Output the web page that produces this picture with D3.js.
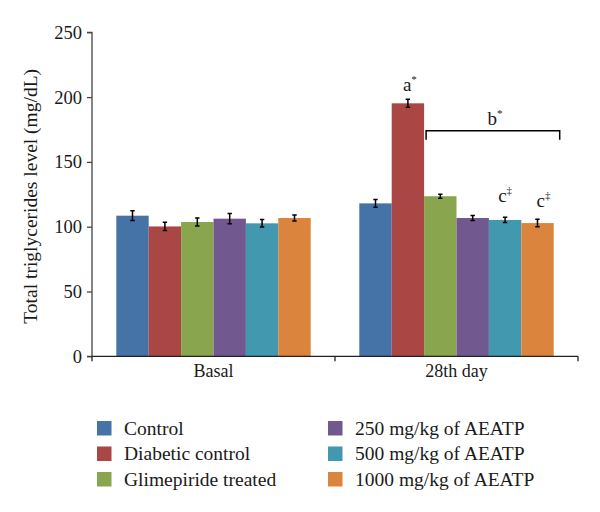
<!DOCTYPE html>
<html><head><meta charset="utf-8">
<script src="https://cdn.jsdelivr.net/npm/d3@7"></script>
<style>body{margin:0;background:#fff}svg text,svg tspan{font-family:"Liberation Serif","DejaVu Serif",serif;fill:#1a1a1a}</style>
</head><body><svg id="c" width="600" height="512"></svg>
<script>
const categories = ["Basal", "28th day"];
const seriesNames = ["Control", "Diabetic control", "Glimepiride treated", "250 mg/kg of AEATP", "500 mg/kg of AEATP", "1000 mg/kg of AEATP"];
const colors = ["#4572A7", "#AA4643", "#89A54E", "#71588F", "#4198AF", "#DB843D"];
const basalValues = [108.5, 100.2, 103.6, 106.2, 102.6, 106.7];
const basalErrors = [3.8, 3.2, 3.1, 4.0, 2.9, 2.3];
const day28Values = [118, 195.2, 123.5, 106.7, 105.2, 102.8];
const day28Errors = [2.9, 3.1, 1.5, 1.9, 2.0, 2.9];
const yTicks = [0, 50, 100, 150, 200, 250];
const yTitle = "Total triglycerides level (mg/dL)";

(function () {
const svg = d3.select("#c");
const mLeft = 92, mRight = 578, mTop = 32.3, mBottom = 356.3;
const x0 = d3.scaleBand().domain(categories).range([mLeft, mRight]).paddingInner(0.2).paddingOuter(0.1);
const x1 = d3.scaleBand().domain(d3.range(seriesNames.length)).range([0, x0.bandwidth()]);
const y = d3.scaleLinear().domain([0, 250]).range([mBottom, mTop]);

const data = [
  {cat: categories[0], vals: basalValues, errs: basalErrors},
  {cat: categories[1], vals: day28Values, errs: day28Errors}
];

const g = svg.append("g");
data.forEach(d => {
  const gg = g.append("g").attr("transform", `translate(${x0(d.cat)},0)`);
  gg.selectAll("rect").data(d.vals).join("rect")
    .attr("x", (v, i) => x1(i)).attr("width", x1.bandwidth())
    .attr("y", v => y(v)).attr("height", v => y(0) - y(v))
    .attr("fill", (v, i) => colors[i]);
  d.vals.forEach((v, i) => {
    const cx = x1(i) + x1.bandwidth() / 2;
    const e = d.errs[i];
    const p = d3.path();
    p.moveTo(cx, y(v + e)); p.lineTo(cx, y(v - e));
    p.moveTo(cx - 2.2, y(v + e)); p.lineTo(cx + 2.2, y(v + e));
    p.moveTo(cx - 2.2, y(v - e)); p.lineTo(cx + 2.2, y(v - e));
    gg.append("path").attr("d", p.toString()).attr("stroke", "#000").attr("stroke-width", 1.5).attr("fill", "none");
  });
});

const yAxis = d3.axisLeft(y).tickValues(yTicks).tickSize(5).tickPadding(5);
const ya = svg.append("g").attr("transform", `translate(${mLeft},0)`).call(yAxis);
ya.select(".domain").attr("stroke", "#444").attr("stroke-width", 1.3).attr("d", `M-5,${mTop}H0V${mBottom}H-5`);
ya.selectAll(".tick line").attr("stroke", "#444").attr("stroke-width", 1.3);
ya.selectAll(".tick text").attr("font-size", 18.5).attr("font-family", "Liberation Serif, serif").attr("fill", "#1a1a1a");

const xa = svg.append("g").attr("transform", `translate(0,${mBottom})`);
xa.append("line").attr("x1", mLeft).attr("x2", mRight).attr("y1", 0).attr("y2", 0).attr("stroke", "#222").attr("stroke-width", 1.3);
[mLeft, (x0(categories[0]) + x0.bandwidth() + x0(categories[1])) / 2, mRight].forEach(tx => {
  xa.append("line").attr("x1", tx).attr("x2", tx).attr("y1", 0).attr("y2", 5).attr("stroke", "#222").attr("stroke-width", 1.3);
});
categories.forEach(c => {
  xa.append("text").attr("x", x0(c) + x0.bandwidth() / 2).attr("y", 21).attr("text-anchor", "middle").attr("font-size", 18).text(c);
});

svg.append("text").attr("transform", `translate(37,${(mTop + mBottom) / 2 + 2}) rotate(-90)`)
  .attr("text-anchor", "middle").attr("font-size", 19.5).text(yTitle);

const gx = x0(categories[1]);
const cxOf = i => gx + x1(i) + x1.bandwidth() / 2;
function annot(xc, yb, main, sup) {
  const t = svg.append("text").attr("x", xc).attr("y", yb).attr("text-anchor", "middle").attr("font-size", 19).attr("fill", "#111");
  t.append("tspan").attr("fill", "#111").text(main);
  t.append("tspan").attr("fill", "#111").attr("font-size", 11).attr("dy", -8).text(sup);
}
annot(cxOf(1) + 2, y(day28Values[1] + day28Errors[1]) - 8, "a", "*");
annot(cxOf(4) + 0, y(day28Values[4] + day28Errors[4]) - 15, "c", "‡");
annot(cxOf(5) + 6, y(day28Values[5] + day28Errors[5]) - 12, "c", "‡");
const bx1 = gx + x1(2) + 2, bx2 = gx + x1(5) + x1.bandwidth() + 6;
const by = y(174);
svg.append("path").attr("d", `M${bx1},${by + 9}V${by}H${bx2}V${by + 9}`).attr("stroke", "#000").attr("stroke-width", 1.5).attr("fill", "none");
annot((bx1 + bx2) / 2 + 2, by - 6, "b", "*");

const leg = svg.append("g");
seriesNames.forEach((s, i) => {
  const col = Math.floor(i / 3), row = i % 3;
  const lx = col === 0 ? 97 : 328;
  const ly = 428 + row * 25.5;
  leg.append("rect").attr("x", lx).attr("y", ly - 7).attr("width", 14.5).attr("height", 14.5).attr("fill", colors[i]);
  leg.append("text").attr("x", lx + 27).attr("y", ly + 6.5).attr("font-size", 19.5).text(s);
});
})();
</script></body></html>
